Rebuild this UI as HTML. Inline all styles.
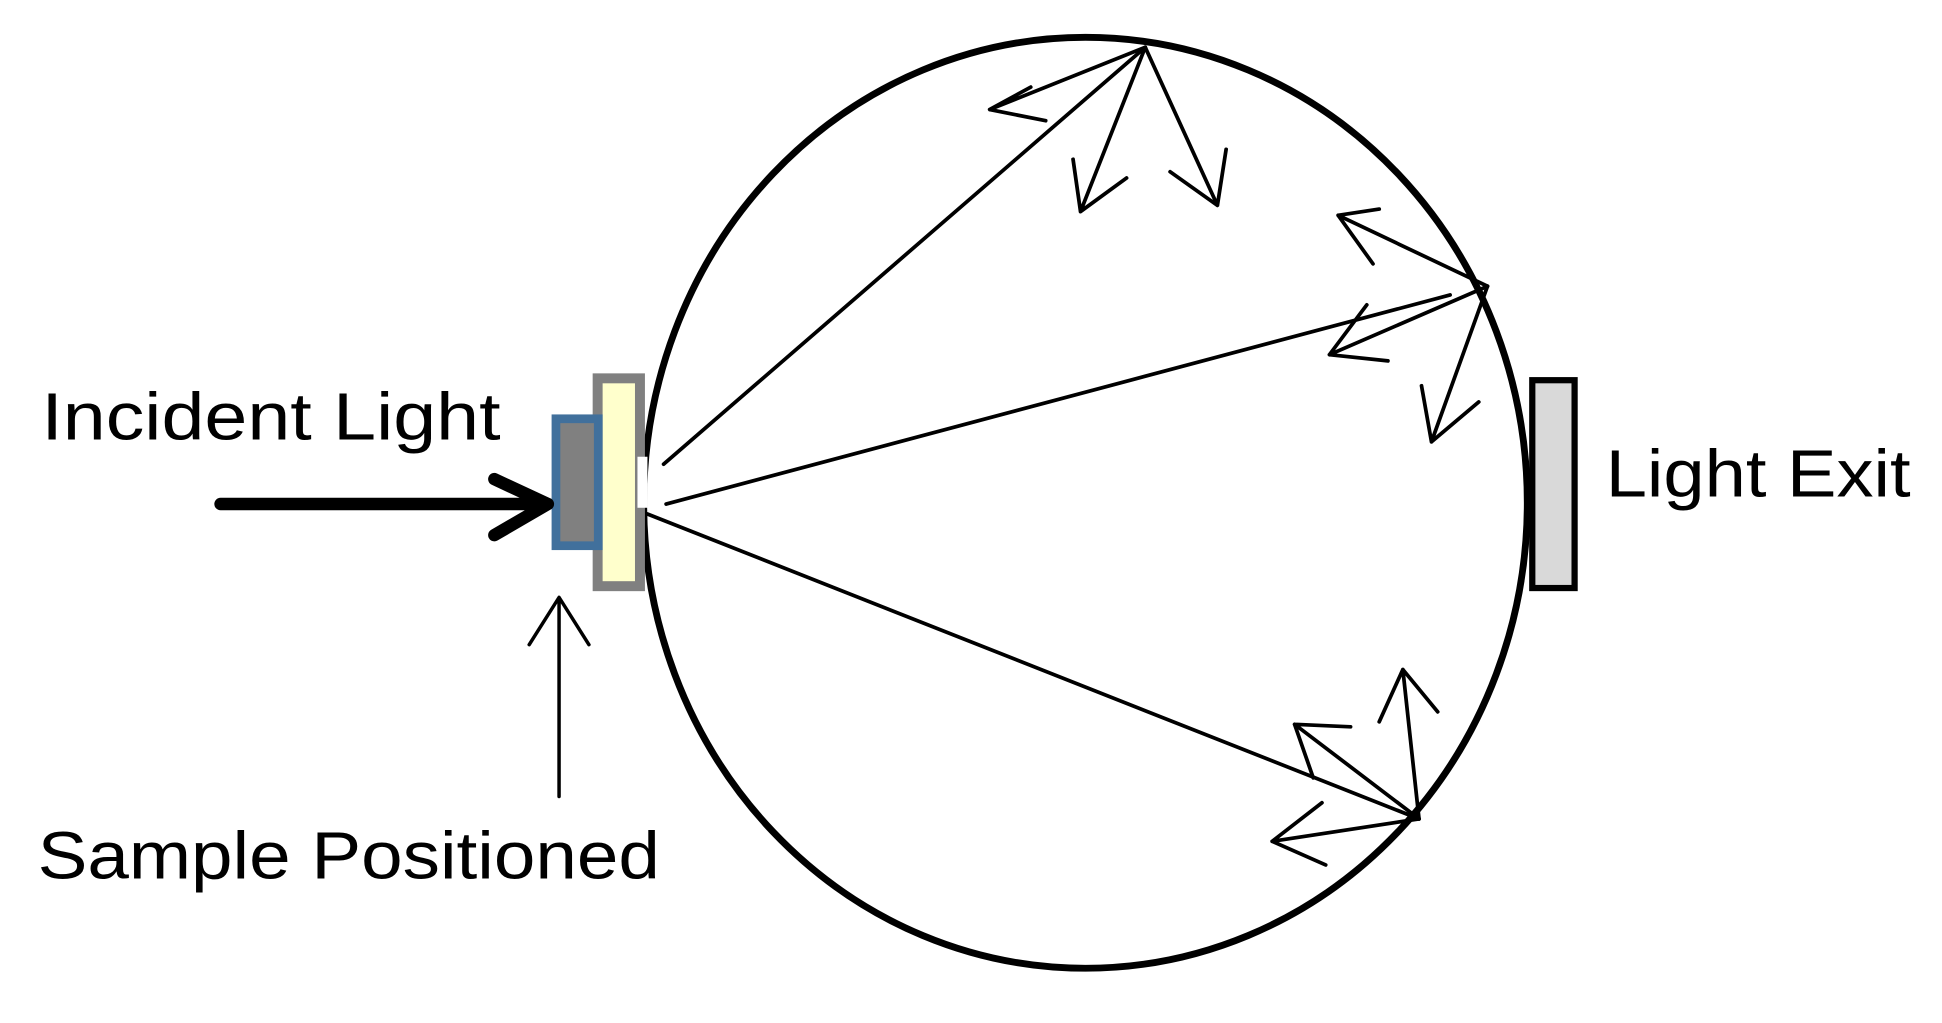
<!DOCTYPE html>
<html><head><meta charset="utf-8"><style>html,body{margin:0;padding:0;background:#fff}svg{display:block}</style></head>
<body>
<svg width="1942" height="1023" viewBox="0 0 1560 822" xmlns="http://www.w3.org/2000/svg">
<rect width="1560" height="822" fill="#fff"/>
<ellipse cx="872" cy="404" rx="355" ry="374" fill="none" stroke="#000" stroke-width="5.5"/>
<rect x="480" y="304" width="34" height="167" fill="#ffffcc" stroke="#808080" stroke-width="8"/>
<rect x="512" y="367" width="8" height="41" fill="#fff"/>
<rect x="446.5" y="336.5" width="34" height="102" fill="#808080" stroke="#41709c" stroke-width="7"/>
<rect x="1231" y="305.5" width="34" height="167" fill="#d9d9d9" stroke="#000" stroke-width="5"/>
<g stroke="#000" fill="none" stroke-linecap="round" stroke-linejoin="round">
<path d="M177 405 L440 405 M397 385 L440 405 L397 430" stroke-width="10"/>
<path d="M449 640 L449 482 M425 518 L449 480 L473 518" stroke-width="2.8"/>
<g stroke-width="3">
<path d="M533 373 L920 38"/>
<path d="M535 405 L1165 237"/>
<path d="M520 413 L1140 658"/>
<path d="M920 38 L795 88 M828 70 L795 88 L840 97"/>
<path d="M920 38 L868 170 M862 128 L868 170 L905 143"/>
<path d="M920 38 L978 165 M940 138 L978 165 L985 120"/>
<path d="M1195 230 L1075 173 M1108 168 L1075 173 L1103 212"/>
<path d="M1195 230 L1068 285 M1098 245 L1068 285 L1115 290"/>
<path d="M1195 230 L1150 355 M1142 310 L1150 355 L1188 323"/>
<path d="M1140 658 L1040 582 M1085 584 L1040 582 L1055 625"/>
<path d="M1140 658 L1127 538 M1108 580 L1127 538 L1155 572"/>
<path d="M1140 658 L1022 676 M1062 645 L1022 676 L1065 695"/>
</g>
</g>
<g font-family="'Liberation Sans', sans-serif" font-size="54" fill="#000">
<text x="33" y="353" textLength="369" lengthAdjust="spacingAndGlyphs">Incident Light</text>
<text x="30" y="706" textLength="500" lengthAdjust="spacingAndGlyphs">Sample Positioned</text>
<text x="1290" y="399" textLength="245" lengthAdjust="spacingAndGlyphs">Light Exit</text>
</g>
</svg>
</body></html>
